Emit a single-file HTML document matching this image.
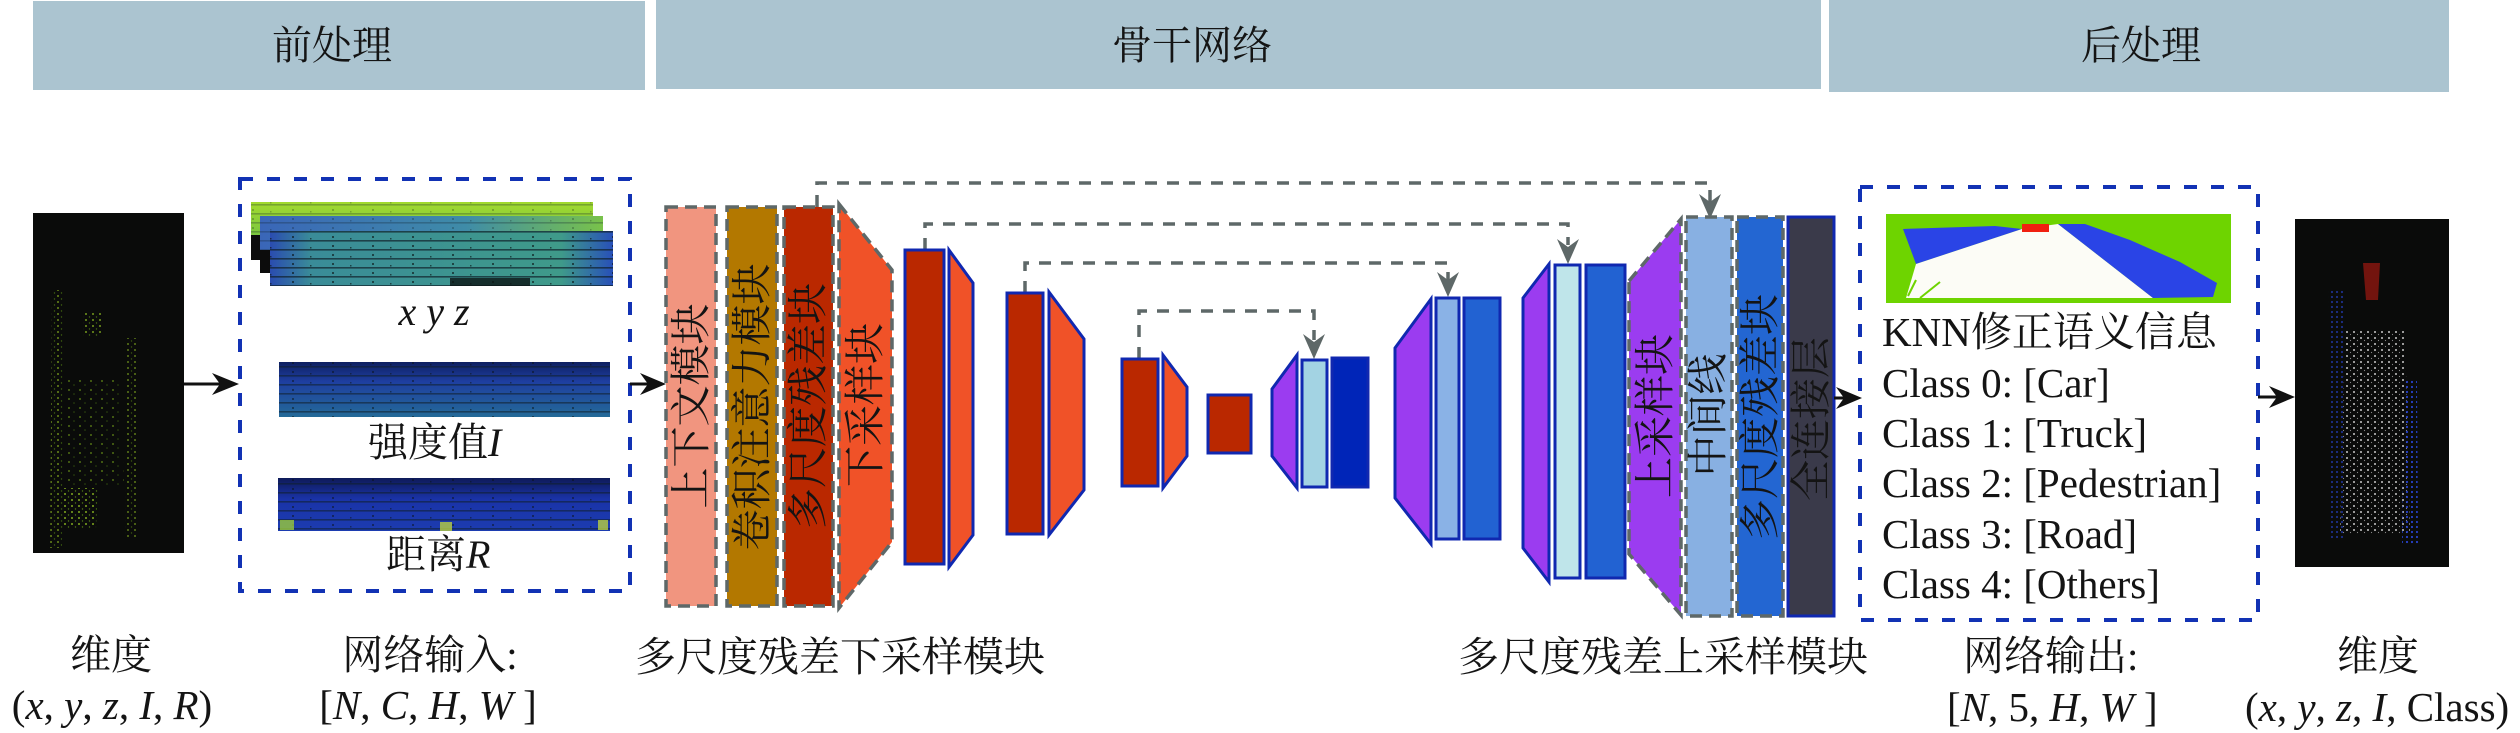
<!DOCTYPE html>
<html><head><meta charset="utf-8">
<style>
html,body{margin:0;padding:0;background:#fff;}
svg{display:block;}
svg text{font-family:"Liberation Serif","Noto Serif CJK SC","DejaVu Serif",serif;fill:#141414;}
</style></head><body>
<svg width="2520" height="733" viewBox="0 0 2520 733" xmlns="http://www.w3.org/2000/svg" font-family="'Liberation Serif','Noto Serif CJK SC','DejaVu Serif',serif">
<defs>
  <pattern id="gdots" width="7" height="6" patternUnits="userSpaceOnUse">
    <circle cx="2" cy="2" r="1" fill="#7FA81E"/>
    <circle cx="5.5" cy="5" r="0.7" fill="#4E7A12"/>
  </pattern>
  <pattern id="gdots2" width="11" height="9" patternUnits="userSpaceOnUse">
    <circle cx="3" cy="3" r="1" fill="#6E9A18"/>
    <circle cx="8" cy="7" r="0.8" fill="#3E6410"/>
  </pattern>
  <pattern id="wdots" width="7" height="6" patternUnits="userSpaceOnUse">
    <circle cx="2" cy="2" r="1" fill="#C8C8C8"/>
    <circle cx="5.5" cy="4.5" r="0.6" fill="#888"/>
  </pattern>
  <pattern id="bdots" width="5" height="5" patternUnits="userSpaceOnUse">
    <circle cx="2" cy="2" r="1.1" fill="#2A48E0"/>
  </pattern>
  <pattern id="lines" width="40" height="9" patternUnits="userSpaceOnUse">
    <rect x="0" y="6" width="40" height="1.6" fill="#10202a" opacity="0.7"/>
    <rect x="12" y="2" width="2" height="2" fill="#0a1010" opacity="0.6"/>
    <rect x="30" y="4" width="1.5" height="1.5" fill="#0a1010" opacity="0.6"/>
  </pattern>
  <linearGradient id="g1" x1="0" y1="0" x2="0" y2="1">
    <stop offset="0" stop-color="#A3DA2E"/><stop offset="1" stop-color="#5CB84C"/>
  </linearGradient>
  <linearGradient id="g2" x1="0" y1="0" x2="1" y2="0">
    <stop offset="0" stop-color="#3A66B8"/><stop offset="0.6" stop-color="#3F8CA8"/><stop offset="1" stop-color="#79C24A"/>
  </linearGradient>
  <linearGradient id="g3" x1="0" y1="0" x2="1" y2="0">
    <stop offset="0" stop-color="#2A4CB0"/><stop offset="0.12" stop-color="#3A8C98"/><stop offset="0.85" stop-color="#3F9A8A"/><stop offset="1" stop-color="#2850B8"/>
  </linearGradient>
  <linearGradient id="g4" x1="0" y1="0" x2="0" y2="1">
    <stop offset="0" stop-color="#0E1F60"/><stop offset="0.35" stop-color="#1E3EA0"/><stop offset="1" stop-color="#246A98"/>
  </linearGradient>
  <linearGradient id="g5" x1="0" y1="0" x2="0" y2="1">
    <stop offset="0" stop-color="#0E1A58"/><stop offset="0.4" stop-color="#1A33A8"/><stop offset="1" stop-color="#1C3CB0"/>
  </linearGradient>
</defs>

<!-- headers -->
<rect x="33" y="1" width="612" height="89" fill="#ABC4D0"/>
<rect x="656" y="0" width="1165" height="89" fill="#ABC4D0"/>
<rect x="1829" y="0" width="620" height="92" fill="#ABC4D0"/>
<g font-family="'Liberation Serif','Noto Serif CJK SC',serif" font-size="40" text-anchor="middle">
<text x="332" y="59">前处理</text>
<text x="1192" y="59">骨干网络</text>
<text x="2141" y="59">后处理</text>
</g>

<!-- input point cloud -->
<rect x="33" y="213" width="151" height="340" fill="#0A0B0A"/>
<polygon points="52,290 64,290 62,548 50,548" fill="url(#gdots)" opacity="0.8"/>
<polygon points="126,338 136,338 137,538 125,538" fill="url(#gdots)" opacity="0.7"/>
<polygon points="66,380 120,380 124,488 64,488" fill="url(#gdots2)" opacity="0.7"/>
<polygon points="62,488 98,488 96,528 62,528" fill="url(#gdots)"/>
<polygon points="83,312 102,312 102,337 83,337" fill="url(#gdots)" opacity="0.9"/>

<!-- arrow 1 -->
<line x1="184" y1="384" x2="224" y2="384" stroke="#111" stroke-width="3"/>
<polygon points="239,384 212,373 220,384 212,395" fill="#111"/>

<!-- input dashed box -->
<rect x="240" y="179" width="390" height="412" fill="none" stroke="#1232B4" stroke-width="4" stroke-dasharray="13 14"/>

<!-- xyz stack -->
<rect x="251" y="202" width="342" height="58" fill="url(#g1)"/>
<rect x="251" y="202" width="342" height="58" fill="url(#lines)" opacity="0.4"/>
<rect x="251" y="235" width="12" height="25" fill="#0c0c0c"/>
<rect x="260" y="216" width="343" height="57" fill="url(#g2)"/>
<rect x="260" y="216" width="343" height="57" fill="url(#lines)" opacity="0.4"/>
<rect x="260" y="250" width="12" height="23" fill="#0c0c0c"/>
<rect x="270" y="231" width="343" height="55" fill="url(#g3)"/>
<rect x="270" y="231" width="343" height="55" fill="url(#lines)"/>
<rect x="450" y="278" width="80" height="8" fill="#0c1414" opacity="0.8"/>
<text x="434" y="325" font-size="40" text-anchor="middle" font-style="italic" font-family="'Liberation Serif',serif">x y z</text>

<!-- intensity -->
<rect x="279" y="362" width="331" height="55" fill="url(#g4)"/>
<rect x="279" y="362" width="331" height="55" fill="url(#lines)" opacity="0.8"/>
<text x="368" y="456" font-size="40" font-family="'Liberation Serif','Noto Serif CJK SC',serif">强度值<tspan font-style="italic">I</tspan></text>

<!-- range -->
<rect x="278" y="478" width="332" height="53" fill="url(#g5)"/>
<rect x="278" y="478" width="332" height="53" fill="url(#lines)" opacity="0.8"/>
<rect x="280" y="520" width="14" height="10" fill="#9ACB3A" opacity="0.8"/>
<rect x="440" y="522" width="12" height="9" fill="#B8D040" opacity="0.8"/>
<rect x="598" y="520" width="10" height="10" fill="#B8D040" opacity="0.8"/>
<text x="386" y="568" font-size="40" font-family="'Liberation Serif','Noto Serif CJK SC',serif">距离<tspan font-style="italic">R</tspan></text>

<!-- arrow 2 -->
<line x1="630" y1="384" x2="652" y2="384" stroke="#111" stroke-width="3"/>
<polygon points="666,384 640,373 648,384 640,395" fill="#111"/>

<!-- skip connectors -->
<g fill="none" stroke="#5E6868" stroke-width="3.5" stroke-dasharray="12 10">
  <polyline points="817,207 817,183 1710,183 1710,202"/>
  <polyline points="925,250 925,224 1568,224 1568,245"/>
  <polyline points="1025,293 1025,263 1448,263 1448,280"/>
  <polyline points="1139,359 1139,311 1314,311 1314,340"/>
</g>
<g fill="#5E6868">
  <polygon points="1710,219 1699,194 1710,202 1721,194"/>
  <polygon points="1568,264 1557,239 1568,247 1579,239"/>
  <polygon points="1448,297 1437,272 1448,280 1459,272"/>
  <polygon points="1314,359 1303,334 1314,342 1325,334"/>
</g>

<!-- encoder first stage (dashed) -->
<g stroke="#5E6868" stroke-width="3.5" stroke-dasharray="12 7">
  <rect x="666" y="207" width="50" height="399" fill="#F1957F"/>
  <rect x="727" y="207" width="50" height="399" fill="#B37800"/>
  <rect x="784" y="207" width="49" height="399" fill="#BA2800"/>
  <polygon points="839,204 892,270 892,542 839,608" fill="#F05228"/>
</g>
<g font-size="41" text-anchor="middle" dominant-baseline="central" font-family="'Liberation Serif','Noto Serif CJK SC',serif">
  <text transform="translate(691,406) rotate(-90)">上下文模块</text>
  <text transform="translate(752,407) rotate(-90)">卷积注意力模块</text>
  <text transform="translate(808,406) rotate(-90)">多尺度残差块</text>
  <text transform="translate(865,405) rotate(-90)">下采样块</text>
</g>

<!-- encoder lower stages -->
<g stroke="#1028B0" stroke-width="3">
  <rect x="905" y="250" width="39" height="314" fill="#BA2800"/>
  <polygon points="949,250 973,283 973,535 949,567" fill="#F05228"/>
  <rect x="1007" y="293" width="36" height="241" fill="#BA2800"/>
  <polygon points="1049,292 1084,339 1084,490 1049,535" fill="#F05228"/>
  <rect x="1122" y="359" width="36" height="127" fill="#BA2800"/>
  <polygon points="1163,355 1187,387 1187,456 1163,488" fill="#F05228"/>
  <rect x="1208" y="395" width="43" height="58" fill="#BA2800"/>
  <!-- decoder -->
  <polygon points="1272,389 1297,355 1297,488 1272,456" fill="#9B3CF0"/>
  <rect x="1302" y="360" width="25" height="127" fill="#A3D3E3"/>
  <rect x="1332" y="358" width="36" height="129" fill="#0025B8"/>
  <polygon points="1395,348 1431,299 1431,544 1395,498" fill="#9B3CF0"/>
  <rect x="1436" y="298" width="23" height="241" fill="#8AB2E6"/>
  <rect x="1464" y="298" width="36" height="241" fill="#2262D2"/>
  <polygon points="1523,298 1549,264 1549,582 1523,548" fill="#9B3CF0"/>
  <rect x="1555" y="265" width="25" height="313" fill="#BFE5EA"/>
  <rect x="1586" y="265" width="39" height="313" fill="#2262D2"/>
</g>

<!-- decoder final stage -->
<g stroke="#5E6868" stroke-width="3.5" stroke-dasharray="12 7">
  <polygon points="1629,281 1681,219 1681,615 1629,554" fill="#9B3CF0"/>
  <rect x="1686" y="217" width="46" height="399" fill="#88B0E2"/>
  <rect x="1737" y="217" width="46" height="399" fill="#2366D2"/>
</g>
<rect x="1788" y="217" width="46" height="399" fill="#3A3A4A" stroke="#1028B0" stroke-width="3"/>
<g font-size="41" text-anchor="middle" dominant-baseline="central" font-family="'Liberation Serif','Noto Serif CJK SC',serif">
  <text transform="translate(1655,416) rotate(-90)">上采样块</text>
  <text transform="translate(1708,415) rotate(-90)">中间线</text>
  <text transform="translate(1760,417) rotate(-90)">多尺度残差块</text>
  <text transform="translate(1811,419) rotate(-90)">全连接层</text>
</g>

<!-- arrow 3 -->
<line x1="1834" y1="398" x2="1848" y2="398" stroke="#111" stroke-width="3"/>
<polygon points="1862,398 1836,387 1844,398 1836,409" fill="#111"/>

<!-- output dashed box -->
<rect x="1860" y="187" width="398" height="433" fill="none" stroke="#1232B4" stroke-width="4" stroke-dasharray="13 14"/>

<!-- segmentation image -->
<rect x="1886" y="214" width="345" height="89" fill="#6ED400"/>
<polygon points="1903,229 1995,226 2022,229 1916,264" fill="#2A44E6"/>
<polygon points="1916,264 2022,229 2058,224 2153,298 1906,298" fill="#FCFCF6"/>
<polygon points="2058,224 2085,224 2130,240 2180,262 2217,283 2213,297 2153,298" fill="#2A44E6"/>
<rect x="2022" y="224" width="27" height="8" fill="#F02010"/>
<line x1="1908" y1="296" x2="1916" y2="280" stroke="#6ED400" stroke-width="2"/>
<line x1="1920" y1="298" x2="1940" y2="282" stroke="#6ED400" stroke-width="2"/>

<!-- output text -->
<g font-size="41" font-family="'Liberation Serif','Noto Serif CJK SC',serif">
  <text x="1882" y="346">KNN修正语义信息</text>
  <text x="1882" y="397">Class 0: [Car]</text>
  <text x="1882" y="447">Class 1: [Truck]</text>
  <text x="1882" y="497">Class 2: [Pedestrian]</text>
  <text x="1882" y="548">Class 3: [Road]</text>
  <text x="1882" y="598">Class 4: [Others]</text>
</g>

<!-- arrow 4 -->
<line x1="2258" y1="397" x2="2281" y2="397" stroke="#111" stroke-width="3"/>
<polygon points="2295,397 2269,386 2277,397 2269,408" fill="#111"/>

<!-- output point cloud -->
<rect x="2295" y="219" width="154" height="348" fill="#0A0B0A"/>
<polygon points="2345,330 2405,330 2410,535 2340,535" fill="url(#wdots)"/>
<polygon points="2328,290 2344,290 2346,540 2330,540" fill="url(#bdots)" opacity="0.6"/>
<polygon points="2404,380 2417,380 2418,545 2402,545" fill="url(#bdots)" opacity="0.9"/>
<polygon points="2363,263 2380,263 2378,300 2366,300" fill="#A01810" opacity="0.7"/>

<!-- bottom labels -->
<g font-size="41" font-family="'Liberation Serif','Noto Serif CJK SC',serif">
  <text x="111" y="669" text-anchor="middle">维度</text>
  <text x="112" y="719" text-anchor="middle">(<tspan font-style="italic">x</tspan>, <tspan font-style="italic">y</tspan>, <tspan font-style="italic">z</tspan>, <tspan font-style="italic">I</tspan>, <tspan font-style="italic">R</tspan>)</text>
  <text x="430" y="669" text-anchor="middle">网络输入:</text>
  <text x="428" y="719" text-anchor="middle">[<tspan font-style="italic">N</tspan>, <tspan font-style="italic">C</tspan>, <tspan font-style="italic">H</tspan>, <tspan font-style="italic">W</tspan> ]</text>
  <text x="635" y="671">多尺度残差下采样模块</text>
  <text x="1458" y="671">多尺度残差上采样模块</text>
  <text x="1963" y="670">网络输出:</text>
  <text x="1947" y="721">[<tspan font-style="italic">N</tspan>, 5, <tspan font-style="italic">H</tspan>, <tspan font-style="italic">W</tspan> ]</text>
  <text x="2378" y="670" text-anchor="middle">维度</text>
  <text x="2245" y="721">(<tspan font-style="italic">x</tspan>, <tspan font-style="italic">y</tspan>, <tspan font-style="italic">z</tspan>, <tspan font-style="italic">I</tspan>, Class)</text>
</g>
</svg>
</body></html>
